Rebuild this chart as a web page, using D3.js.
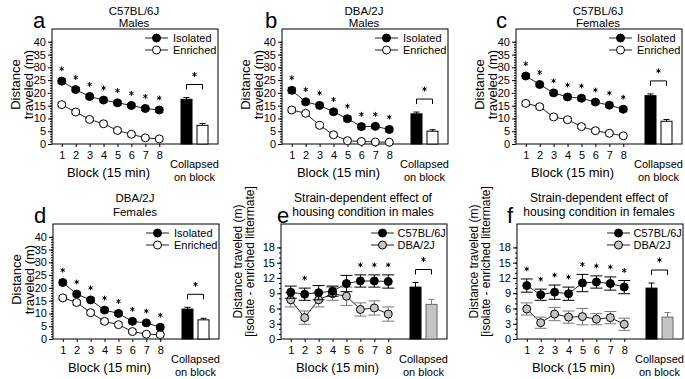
<!DOCTYPE html>
<html>
<head>
<meta charset="utf-8">
<script src="https://cdn.jsdelivr.net/npm/d3@7"></script>
<style>
  body { margin: 0; background: #fff; }
  text { font-family: "Liberation Sans", Arial, sans-serif; fill: #000; }
</style>
</head>
<body>
<svg id="chart" width="685" height="379"></svg>
<script>
// values
const blocks = [1, 2, 3, 4, 5, 6, 7, 8];
const housing = ['Isolated', 'Enriched'];
const strains = ['C57BL/6J', 'DBA/2J'];
const ticksDist = [0, 5, 10, 15, 20, 25, 30, 35, 40];
const ticksDiff = [0, 3, 6, 9, 12, 15, 18];

// a: C57BL/6J males
const aIso = [24.6, 21.3, 18.6, 17.2, 16.1, 15.1, 13.9, 13.3];
const aIsoErr = [0.9, 0.8, 0.8, 0.8, 0.9, 0.8, 0.8, 0.8];
const aEnr = [15.4, 12.5, 9.6, 7.9, 5.3, 3.8, 2.4, 2.0];
const aEnrErr = [0.8, 0.8, 0.7, 0.7, 0.8, 0.7, 0.7, 0.7];
const aBars = [17.5, 7.3];
const aBarErr = [0.7, 0.7];
const aStars = [1, 2, 3, 4, 5, 6, 7, 8];

// b: DBA/2J males
const bIso = [21.0, 16.5, 15.1, 12.6, 9.9, 6.8, 6.9, 5.7];
const bIsoErr = [1.0, 0.9, 0.9, 0.9, 1.0, 0.9, 0.8, 0.9];
const bEnr = [13.3, 12.0, 7.3, 3.6, 1.3, 1.0, 0.8, 0.7];
const bEnrErr = [0.8, 0.7, 0.8, 0.7, 0.6, 0.5, 0.5, 0.5];
const bBars = [11.8, 5.0];
const bBarErr = [0.7, 0.6];
const bStars = [1, 2, 3, 4, 5, 6, 7, 8];

// c: C57BL/6J females
const cIso = [26.6, 23.3, 20.0, 18.4, 17.9, 16.4, 15.2, 13.6];
const cIsoErr = [0.9, 0.8, 0.8, 0.8, 0.9, 0.8, 0.8, 0.8];
const cEnr = [15.9, 14.6, 10.6, 9.5, 6.8, 5.2, 4.2, 3.2];
const cEnrErr = [0.8, 0.8, 0.8, 0.7, 0.8, 0.7, 0.7, 0.7];
const cBars = [18.9, 8.9];
const cBarErr = [0.7, 0.7];
const cStars = [1, 2, 3, 4, 5, 6, 7, 8];

// d: DBA/2J females
const dIso = [22.1, 17.6, 15.3, 11.3, 10.0, 6.9, 6.3, 4.6];
const dIsoErr = [0.9, 0.8, 0.8, 0.8, 0.8, 0.8, 0.7, 0.8];
const dEnr = [16.1, 14.3, 10.3, 6.9, 5.6, 2.9, 1.9, 1.7];
const dEnrErr = [0.8, 0.8, 0.8, 0.8, 0.7, 0.7, 0.6, 0.6];
const dBars = [11.7, 7.5];
const dBarErr = [0.7, 0.6];
const dStars = [1, 2, 3, 4, 5, 6, 7, 8];

// e: isolate - enriched difference, males
const eC57 = [9.2, 8.8, 9.1, 9.4, 10.9, 11.4, 11.4, 11.3];
const eC57Err = [1.2, 1.2, 1.4, 1.0, 1.6, 1.2, 1.2, 1.3];
const eDBA = [7.7, 4.2, 7.7, 8.9, 8.4, 5.8, 6.1, 4.9];
const eDBAErr = [1.4, 1.3, 1.4, 1.3, 1.8, 1.3, 1.4, 1.4];
const eBars = [10.2, 6.8];
const eBarErr = [0.9, 1.0];
const eStars = [2, 6, 7, 8];

// f: isolate - enriched difference, females
const fC57 = [10.5, 8.7, 9.2, 8.9, 11.0, 11.2, 10.9, 10.2];
const fC57Err = [1.3, 1.1, 1.4, 1.3, 1.7, 1.2, 1.3, 1.3];
const fDBA = [5.9, 3.2, 4.9, 4.3, 4.4, 3.9, 4.2, 2.9];
const fDBAErr = [1.2, 1.1, 1.3, 1.2, 1.6, 1.1, 1.2, 1.2];
const fBars = [10.0, 4.3];
const fBarErr = [1.0, 0.9];
const fStars = [1, 2, 3, 4, 5, 6, 7, 8];

const svg = d3.select('#chart');
svg.append('rect').attr('width', 685).attr('height', 379).attr('fill', '#fff');

const W = 166, H = 115;
const star = d3.symbol(d3.symbolAsterisk, 16);

function housingSeries(iso, isoErr, enr, enrErr) {
  return [
    { name: housing[0], values: iso, err: isoErr, fill: '#000', errColor: '#000' },
    { name: housing[1], values: enr, err: enrErr, fill: '#fff', errColor: '#000' }
  ];
}
function strainSeries(c57, c57Err, dba, dbaErr) {
  return [
    { name: strains[0], values: c57, err: c57Err, fill: '#000', errColor: '#000' },
    { name: strains[1], values: dba, err: dbaErr, fill: '#c4c4c4', errColor: '#7a7a7a' }
  ];
}

const panels = [
  { letter: 'a', lx: 33, left: 52, bottom: 144, title: ['C57BL/6J', 'Males'], ty: [15, 27],
    yMax: 45, ticks: ticksDist, series: housingSeries(aIso, aIsoErr, aEnr, aEnrErr),
    bars: aBars, barErr: aBarErr, stars: aStars, diff: false },
  { letter: 'b', lx: 265, left: 282, bottom: 144, title: ['DBA/2J', 'Males'], ty: [15, 27],
    yMax: 45, ticks: ticksDist, series: housingSeries(bIso, bIsoErr, bEnr, bEnrErr),
    bars: bBars, barErr: bBarErr, stars: bStars, diff: false },
  { letter: 'c', lx: 496, left: 516, bottom: 144, title: ['C57BL/6J', 'Females'], ty: [15, 27],
    yMax: 45, ticks: ticksDist, series: housingSeries(cIso, cIsoErr, cEnr, cEnrErr),
    bars: cBars, barErr: cBarErr, stars: cStars, diff: false },
  { letter: 'd', lx: 34, left: 53, bottom: 339, title: ['DBA/2J', 'Females'], ty: [202, 216],
    yMax: 45, ticks: ticksDist, series: housingSeries(dIso, dIsoErr, dEnr, dEnrErr),
    bars: dBars, barErr: dBarErr, stars: dStars, diff: false },
  { letter: 'e', lx: 277, left: 281, bottom: 339, title: ['Strain-dependent effect of', 'housing condition in males'], ty: [202, 216],
    yMax: 22.6, ticks: ticksDiff, series: strainSeries(eC57, eC57Err, eDBA, eDBAErr),
    bars: eBars, barErr: eBarErr, stars: eStars, diff: true },
  { letter: 'f', lx: 507, left: 517, bottom: 339, title: ['Strain-dependent effect of', 'housing condition in females'], ty: [202, 216],
    yMax: 22.6, ticks: ticksDiff, series: strainSeries(fC57, fC57Err, fDBA, fDBAErr),
    bars: fBars, barErr: fBarErr, stars: fStars, diff: true }
];

panels.forEach(drawPanel);

function drawPanel(p) {
  const g = svg.append('g');
  const x = d3.scaleLinear().domain([0.3, 8.7]).range([p.left, p.left + 117]);
  const xb = d3.scaleBand().domain(p.series.map(s => s.name))
    .range([p.left + 124, p.left + 161]).paddingInner(0.3125).paddingOuter(0.3125);
  const y = d3.scaleLinear().domain([0, p.yMax]).range([p.bottom, p.bottom - H]);
  const top = y(p.yMax);
  const capW = p.diff ? 6 : 4;

  // minor ticks
  g.append('g')
    .attr('transform', `translate(${p.left},0)`)
    .call(d3.axisLeft(y).tickValues(d3.range(0, p.ticks[p.ticks.length - 1] + 0.01, 1)).tickSize(2).tickFormat(''))
    .call(a => a.select('.domain').remove());

  // y axis
  g.append('g')
    .attr('transform', `translate(${p.left},0)`)
    .call(d3.axisLeft(y).tickValues(p.ticks).tickSize(4).tickPadding(2))
    .call(a => a.select('.domain').remove())
    .call(a => a.selectAll('text').attr('font-size', 11).attr('font-family', 'Liberation Sans, Arial, sans-serif'));

  // x axis
  g.append('g')
    .attr('transform', `translate(0,${p.bottom})`)
    .call(d3.axisBottom(x).tickValues(blocks).tickSize(3).tickPadding(4))
    .call(a => a.select('.domain').remove())
    .call(a => a.selectAll('text').attr('font-size', 11).attr('font-family', 'Liberation Sans, Arial, sans-serif'));

  // frame
  g.append('rect')
    .attr('x', p.left).attr('y', top).attr('width', W).attr('height', H)
    .attr('fill', 'none').attr('stroke', '#000').attr('stroke-width', 1);

  // lines, error bars, markers
  const line = d3.line().x((v, i) => x(blocks[i])).y(v => y(v));
  p.series.slice().reverse().forEach(s => {
    g.append('path').attr('d', line(s.values))
      .attr('fill', 'none').attr('stroke', '#222').attr('stroke-width', 1);
  });
  p.series.slice().reverse().forEach(s => {
    const eg = g.append('g').attr('stroke', s.errColor).attr('stroke-width', 1);
    s.values.forEach((v, i) => {
      const cx = x(blocks[i]);
      eg.append('line').attr('x1', cx).attr('x2', cx).attr('y1', y(v - s.err[i])).attr('y2', y(v + s.err[i]));
      eg.append('line').attr('x1', cx - capW).attr('x2', cx + capW).attr('y1', y(v - s.err[i])).attr('y2', y(v - s.err[i]));
      eg.append('line').attr('x1', cx - capW).attr('x2', cx + capW).attr('y1', y(v + s.err[i])).attr('y2', y(v + s.err[i]));
    });
    g.selectAll(null).data(s.values).enter().append('circle')
      .attr('cx', (v, i) => x(blocks[i])).attr('cy', v => y(v)).attr('r', 4)
      .attr('fill', s.fill).attr('stroke', '#000').attr('stroke-width', 1);
  });

  // stars over blocks
  const first = p.series[0];
  p.stars.forEach(b => {
    const i = blocks.indexOf(b);
    g.append('path').attr('d', star())
      .attr('transform', `translate(${x(b)},${y(first.values[i] + first.err[i]) - 10})`)
      .attr('fill', 'none').attr('stroke', '#000').attr('stroke-width', 1);
  });

  // collapsed bars
  p.series.forEach((s, i) => {
    const bx = xb(s.name), bw = xb.bandwidth(), cx = bx + bw / 2;
    g.append('line').attr('x1', cx).attr('x2', cx).attr('y1', y(p.bars[i])).attr('y2', y(p.bars[i] + p.barErr[i]))
      .attr('stroke', s.errColor);
    g.append('line').attr('x1', cx - 3).attr('x2', cx + 3)
      .attr('y1', y(p.bars[i] + p.barErr[i])).attr('y2', y(p.bars[i] + p.barErr[i]))
      .attr('stroke', s.errColor);
    g.append('rect').attr('x', bx).attr('y', y(p.bars[i])).attr('width', bw).attr('height', p.bottom - y(p.bars[i]))
      .attr('fill', s.fill).attr('stroke', s.fill === '#c4c4c4' ? '#666' : '#000').attr('stroke-width', 1);
  });
  const bTop = d3.min(p.bars.map((v, i) => y(v + p.barErr[i]))) - 13;
  const bx1 = xb(p.series[0].name) + xb.bandwidth() / 2;
  const bx2 = xb(p.series[1].name) + xb.bandwidth() / 2;
  g.append('path').attr('d', `M${bx1},${bTop + 5}V${bTop}H${bx2}V${bTop + 5}`)
    .attr('fill', 'none').attr('stroke', '#000');
  g.append('path').attr('d', star())
    .attr('transform', `translate(${(bx1 + bx2) / 2},${bTop - 10})`)
    .attr('fill', 'none').attr('stroke', '#000').attr('stroke-width', 1);

  // legend
  const lo = p.diff ? -3 : 0;
  p.series.forEach((s, i) => {
    const ly = top + 9 + i * 12;
    g.append('line').attr('x1', p.left + 93 + lo).attr('x2', p.left + 116 + lo).attr('y1', ly).attr('y2', ly)
      .attr('stroke', '#222');
    g.append('circle').attr('cx', p.left + 104.5 + lo).attr('cy', ly).attr('r', 4)
      .attr('fill', s.fill).attr('stroke', '#000');
    g.append('text').attr('x', p.left + 121 + lo * 1.5).attr('y', ly + 4).attr('font-size', 11).text(s.name);
  });

  // labels
  g.append('text').attr('x', p.lx).attr('y', top - 1).attr('font-size', 22).text(p.letter);
  p.title.forEach((t, i) => {
    g.append('text').attr('x', p.left + 82).attr('y', p.ty[i]).attr('text-anchor', 'middle')
      .attr('font-size', p.diff ? 12 : 11.5).text(t);
  });
  g.append('text').attr('x', x(4.5) - 2).attr('y', p.bottom + 33).attr('text-anchor', 'middle')
    .attr('font-size', 13).text('Block (15 min)');
  const cmid = p.left + 142.5;
  g.append('text').attr('x', cmid).attr('y', p.bottom + 24).attr('text-anchor', 'middle')
    .attr('font-size', 11).text('Collapsed');
  g.append('text').attr('x', cmid).attr('y', p.bottom + 37).attr('text-anchor', 'middle')
    .attr('font-size', 11).text('on block');

  const ymid = (top + p.bottom) / 2;
  if (!p.diff) {
    [['Distance', 32], ['traveled (m)', 19]].forEach(([t, off]) => {
      g.append('text').attr('transform', `translate(${p.left - off},${ymid - 2}) rotate(-90)`)
        .attr('text-anchor', 'middle').attr('font-size', 13).text(t);
    });
  } else {
    [['Distance traveled (m)', 39], ['[isolate - enriched littermate]', 27]].forEach(([t, off]) => {
      g.append('text').attr('transform', `translate(${p.left - off},${ymid - 20}) rotate(-90)`)
        .attr('text-anchor', 'middle').attr('font-size', 12).text(t);
    });
  }
}
</script>
</body>
</html>
